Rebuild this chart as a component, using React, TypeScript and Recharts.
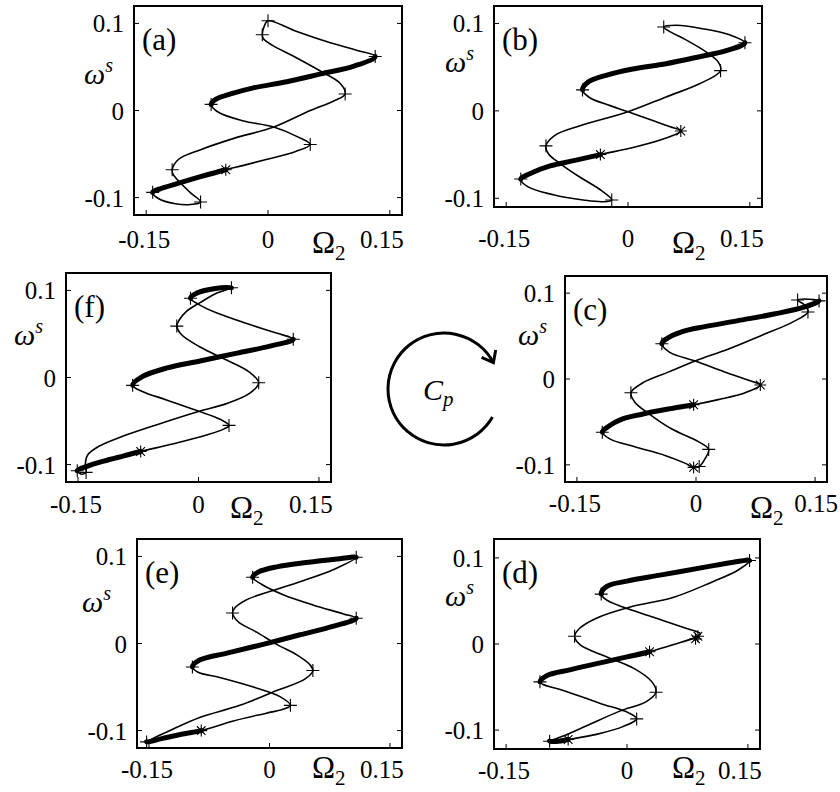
import React from "react";
import { ComposedChart, Line, Scatter, XAxis, YAxis, ReferenceArea } from "recharts";

type Pt = [number, number];

const xDomain: [number, number] = [-0.165, 0.165];
const xTicks = [-0.15, 0, 0.15];
const yTicks = [-0.1, 0, 0.1];

// Each orbit is one closed loop, written as runs that share their end points.
// thickX lists the runs drawn with the heavy line.

// (a)
const runsA: Pt[][] = [
  [[0.132, 0.062], [0.106, 0.051], [0.065, 0.042], [0.023, 0.033], [-0.018, 0.026], [-0.046, 0.019], [-0.064, 0.013], [-0.07, 0.007]],
  [[-0.07, 0.007], [-0.061, -0.002], [-0.03, -0.012], [0.007, -0.019], [0.036, -0.03], [0.052, -0.039], [0.034, -0.047], [-0.001, -0.056], [-0.03, -0.063], [-0.052, -0.068]],
  [[-0.052, -0.068], [-0.083, -0.076], [-0.112, -0.084], [-0.133, -0.09], [-0.142, -0.094]],
  [[-0.142, -0.094], [-0.135, -0.101], [-0.114, -0.107], [-0.096, -0.108], [-0.083, -0.105], [-0.096, -0.094], [-0.108, -0.083], [-0.117, -0.073], [-0.118, -0.068], [-0.11, -0.056], [-0.083, -0.045], [-0.042, -0.032], [0.007, -0.019], [0.052, 0.0], [0.081, 0.011], [0.095, 0.019], [0.089, 0.031], [0.065, 0.045], [0.032, 0.062], [0.005, 0.075], [-0.006, 0.083], [-0.007, 0.087], [-0.005, 0.096], [0.0, 0.103], [0.032, 0.092], [0.073, 0.079], [0.11, 0.069], [0.132, 0.062]],
];
const thickA = [0, 2];
const plusA: Pt[] = [[0.0, 0.103], [-0.007, 0.087], [0.132, 0.062], [0.095, 0.019], [-0.07, 0.007], [0.052, -0.039], [-0.118, -0.068], [-0.142, -0.094], [-0.083, -0.105]];
const starA: Pt[] = [[-0.052, -0.068]];

// (b)
const runsB: Pt[][] = [
  [[0.144, 0.078], [0.121, 0.069], [0.088, 0.062], [0.047, 0.054], [0.006, 0.048], [-0.026, 0.041], [-0.049, 0.033], [-0.056, 0.024]],
  [[-0.056, 0.024], [-0.047, 0.015], [-0.022, 0.006], [0.0, -0.001], [0.027, -0.01], [0.051, -0.018], [0.065, -0.023], [0.047, -0.031], [0.01, -0.041], [-0.034, -0.05]],
  [[-0.034, -0.05], [-0.067, -0.057], [-0.096, -0.063], [-0.121, -0.072], [-0.132, -0.078]],
  [[-0.132, -0.078], [-0.123, -0.087], [-0.092, -0.096], [-0.055, -0.102], [-0.031, -0.104], [-0.02, -0.102], [-0.033, -0.091], [-0.059, -0.076], [-0.084, -0.06], [-0.098, -0.049], [-0.101, -0.04], [-0.09, -0.028], [-0.059, -0.017], [0.0, -0.001], [0.047, 0.016], [0.088, 0.031], [0.114, 0.046], [0.111, 0.056], [0.097, 0.067], [0.072, 0.081], [0.051, 0.091], [0.044, 0.096], [0.06, 0.098], [0.092, 0.094], [0.125, 0.087], [0.144, 0.078]],
];
const thickB = [0, 2];
const plusB: Pt[] = [[0.044, 0.096], [0.144, 0.078], [0.114, 0.046], [-0.056, 0.024], [-0.101, -0.04], [-0.132, -0.078], [-0.02, -0.102]];
const starB: Pt[] = [[0.065, -0.023], [-0.034, -0.05]];

// (f)
const runsF: Pt[][] = [
  [[-0.01, 0.091], [-0.002, 0.097], [0.019, 0.102], [0.041, 0.103]],
  [[0.041, 0.103], [0.023, 0.097], [0.002, 0.086], [-0.015, 0.076], [-0.024, 0.066], [-0.027, 0.059], [-0.021, 0.049], [0.002, 0.035], [0.035, 0.02], [0.062, 0.007], [0.075, -0.006], [0.064, -0.018], [0.035, -0.03], [0.0, -0.039], [-0.048, -0.053], [-0.093, -0.067], [-0.124, -0.079], [-0.138, -0.089], [-0.141, -0.1], [-0.14, -0.109], [-0.146, -0.111], [-0.151, -0.107]],
  [[-0.151, -0.107], [-0.139, -0.102], [-0.118, -0.096], [-0.093, -0.09], [-0.072, -0.085]],
  [[-0.072, -0.085], [-0.031, -0.076], [0.01, -0.066], [0.032, -0.059], [0.038, -0.055], [0.027, -0.048], [-0.002, -0.038], [-0.039, -0.026], [-0.07, -0.016], [-0.082, -0.009]],
  [[-0.082, -0.009], [-0.07, 0.001], [-0.039, 0.011], [0.002, 0.019], [0.048, 0.028], [0.089, 0.036], [0.118, 0.044]],
  [[0.118, 0.044], [0.097, 0.051], [0.06, 0.062], [0.023, 0.074], [0.0, 0.084], [-0.01, 0.091]],
];
const thickF = [0, 2, 4];
const plusF: Pt[] = [[0.041, 0.103], [-0.01, 0.091], [-0.027, 0.059], [0.118, 0.044], [-0.082, -0.009], [0.075, -0.006], [0.038, -0.055], [-0.151, -0.107], [-0.14, -0.109]];
const starF: Pt[] = [[-0.072, -0.085]];

// (c)
const runsC: Pt[][] = [
  [[0.155, 0.091], [0.137, 0.084], [0.1, 0.076], [0.053, 0.068], [0.011, 0.061], [-0.018, 0.055], [-0.037, 0.047], [-0.043, 0.041]],
  [[-0.043, 0.041], [-0.033, 0.031], [-0.001, 0.021], [0.037, 0.008], [0.068, -0.002], [0.081, -0.007], [0.062, -0.016], [0.028, -0.024], [-0.003, -0.03]],
  [[-0.003, -0.03], [-0.035, -0.035], [-0.068, -0.041], [-0.094, -0.047], [-0.11, -0.055], [-0.118, -0.062]],
  [[-0.118, -0.062], [-0.108, -0.07], [-0.077, -0.079], [-0.039, -0.089], [-0.014, -0.098], [-0.003, -0.103], [0.004, -0.102], [0.012, -0.092], [0.016, -0.082], [0.003, -0.073], [-0.031, -0.058], [-0.06, -0.04], [-0.077, -0.027], [-0.082, -0.016], [-0.068, -0.005], [-0.035, 0.008], [-0.001, 0.021], [0.041, 0.035], [0.083, 0.051], [0.121, 0.066], [0.141, 0.078], [0.137, 0.086], [0.128, 0.092], [0.142, 0.093], [0.155, 0.091]],
];
const thickC = [0, 2];
const plusC: Pt[] = [[0.155, 0.091], [0.128, 0.092], [0.141, 0.078], [-0.043, 0.041], [-0.082, -0.016], [-0.118, -0.062], [0.016, -0.082], [0.004, -0.102]];
const starC: Pt[] = [[0.081, -0.007], [-0.003, -0.03], [-0.003, -0.103]];

// (e)
const runsE: Pt[][] = [
  [[-0.021, 0.076], [-0.014, 0.082], [0.009, 0.088], [0.046, 0.093], [0.084, 0.097], [0.108, 0.099]],
  [[0.108, 0.099], [0.08, 0.085], [0.038, 0.071], [0.001, 0.06], [-0.029, 0.05], [-0.043, 0.041], [-0.046, 0.035], [-0.039, 0.025], [-0.016, 0.013], [0.009, -0.001], [0.034, -0.013], [0.05, -0.024], [0.054, -0.031], [0.044, -0.041], [0.009, -0.054], [-0.037, -0.071], [-0.087, -0.085], [-0.124, -0.1], [-0.153, -0.113]],
  [[-0.153, -0.113], [-0.133, -0.109], [-0.108, -0.104], [-0.085, -0.1]],
  [[-0.085, -0.1], [-0.045, -0.089], [-0.004, -0.08], [0.019, -0.075], [0.026, -0.071], [0.013, -0.061], [-0.02, -0.05], [-0.062, -0.039], [-0.089, -0.033], [-0.096, -0.027]],
  [[-0.096, -0.027], [-0.087, -0.019], [-0.053, -0.011], [-0.008, -0.001], [0.038, 0.01], [0.08, 0.02], [0.108, 0.029]],
  [[0.108, 0.029], [0.092, 0.034], [0.055, 0.044], [0.017, 0.056], [-0.01, 0.068], [-0.021, 0.076]],
];
const thickE = [0, 2, 4];
const plusE: Pt[] = [[0.108, 0.099], [-0.021, 0.076], [-0.046, 0.035], [0.108, 0.029], [-0.096, -0.027], [0.054, -0.031], [0.026, -0.071], [-0.153, -0.113]];
const starE: Pt[] = [[-0.085, -0.1]];

// (d)
const runsD: Pt[][] = [
  [[-0.032, 0.058], [-0.025, 0.067], [0.0, 0.073], [0.041, 0.08], [0.095, 0.089], [0.132, 0.095], [0.152, 0.097]],
  [[0.152, 0.097], [0.138, 0.086], [0.103, 0.071], [0.057, 0.054], [0.004, 0.043], [-0.038, 0.03], [-0.059, 0.018], [-0.065, 0.009], [-0.058, -0.001], [-0.025, -0.015], [0.008, -0.028], [0.031, -0.044], [0.036, -0.056], [0.024, -0.067], [-0.009, -0.078], [-0.05, -0.095], [-0.079, -0.107], [-0.096, -0.113]],
  [[-0.096, -0.113], [-0.085, -0.113], [-0.073, -0.111]],
  [[-0.073, -0.111], [-0.038, -0.105], [-0.005, -0.096], [0.012, -0.087], [0.002, -0.08], [-0.033, -0.069], [-0.079, -0.054], [-0.104, -0.047], [-0.108, -0.044]],
  [[-0.108, -0.044], [-0.1, -0.037], [-0.071, -0.03], [-0.029, -0.021], [0.0, -0.015], [0.028, -0.009]],
  [[0.028, -0.009], [0.057, -0.001], [0.088, 0.009], [0.091, 0.012], [0.074, 0.018], [0.033, 0.031], [-0.005, 0.043], [-0.025, 0.051], [-0.032, 0.058]],
];
const thickD = [0, 2, 4];
const plusD: Pt[] = [[0.152, 0.097], [-0.032, 0.058], [-0.065, 0.009], [-0.108, -0.044], [0.036, -0.056], [0.012, -0.087], [-0.096, -0.113]];
const starD: Pt[] = [[0.088, 0.009], [0.085, 0.006], [0.028, -0.009], [-0.073, -0.111]];

const FONT = "Liberation Serif, Times New Roman, serif";
const YW = 70;
const XH = 60;
const MT = 12;
const MR = 40;

// centripetal Catmull-Rom piece (same maths as d3 curveCatmullRom, alpha .5)
function crSegment(ctx: any, p0: Pt, p1: Pt, p2: Pt, p3: Pt) {
  const d = (a: Pt, b: Pt) => Math.hypot(a[0] - b[0], a[1] - b[1]);
  const l01 = Math.sqrt(d(p0, p1));
  const l12 = Math.sqrt(d(p1, p2));
  const l23 = Math.sqrt(d(p2, p3));
  let c1x = p1[0], c1y = p1[1], c2x = p2[0], c2y = p2[1];
  if (l01 > 1e-9) {
    const a = 2 * l01 * l01 + 3 * l01 * l12 + l12 * l12;
    const n = 3 * l01 * (l01 + l12);
    c1x = (p1[0] * a - p0[0] * l12 * l12 + p2[0] * l01 * l01) / n;
    c1y = (p1[1] * a - p0[1] * l12 * l12 + p2[1] * l01 * l01) / n;
  }
  if (l23 > 1e-9) {
    const b = 2 * l23 * l23 + 3 * l23 * l12 + l12 * l12;
    const m = 3 * l23 * (l23 + l12);
    c2x = (p2[0] * b + p1[0] * l23 * l23 - p3[0] * l12 * l12) / m;
    c2y = (p2[1] * b + p1[1] * l23 * l23 - p3[1] * l12 * l12) / m;
  }
  ctx.bezierCurveTo(c1x, c1y, c2x, c2y, p2[0], p2[1]);
}

// closed loop, or open piece whose first/last points only steer the ends
function catmullRom(closed: boolean) {
  return (ctx: any) => {
    let pts: Pt[] = [];
    return {
      areaStart() {},
      areaEnd() {},
      lineStart() {
        pts = [];
      },
      point(x: number, y: number) {
        pts.push([+x, +y]);
      },
      lineEnd() {
        const n = pts.length;
        if (n < 2) return;
        const at = (i: number): Pt =>
          closed ? pts[((i % n) + n) % n] : pts[Math.max(0, Math.min(n - 1, i))];
        const from = closed ? 0 : 1;
        const to = closed ? n : n - 2;
        ctx.moveTo(at(from)[0], at(from)[1]);
        for (let i = from; i < to; i++) crSegment(ctx, at(i - 1), at(i), at(i + 1), at(i + 2));
        if (closed) ctx.closePath();
      },
    };
  };
}
const closedCurve = catmullRom(true);
const openCurve = catmullRom(false);

const PlusMark = (props: any) => {
  const { cx, cy } = props;
  if (cx == null || cy == null) return <g />;
  const r = 6.5;
  return <path d={`M${cx - r},${cy}H${cx + r}M${cx},${cy - r}V${cy + r}`} stroke="#000" strokeWidth={1.1} fill="none" />;
};

const StarMark = (props: any) => {
  const { cx, cy } = props;
  if (cx == null || cy == null) return <g />;
  const r = 6;
  const q = r * 0.72;
  return (
    <path
      d={`M${cx - r},${cy}H${cx + r}M${cx},${cy - r}V${cy + r}M${cx - q},${cy - q}L${cx + q},${cy + q}M${cx - q},${cy + q}L${cx + q},${cy - q}`}
      stroke="#000"
      strokeWidth={1.1}
      fill="none"
    />
  );
};

const fmt = (v: number) => (v === 0 ? "0" : String(v));
const frame = { stroke: "#000", strokeWidth: 2 };
const tickStroke = { stroke: "#000", strokeWidth: 1 };
const NoTick = () => <g />;

type PanelCfg = {
  tag: string;
  left: number;
  top: number;
  w: number;
  h: number;
  yDomain: [number, number];
  runs: Pt[][];
  thick: number[];
  plus: Pt[];
  star: Pt[];
  omS: [number, number];
  om2: [number, number];
  tickDy: number;
  posDx: number;
};

const panels: PanelCfg[] = [
  { tag: "(a)", left: 134, top: 6, w: 268, h: 209, yDomain: [-0.12, 0.12], runs: runsA, thick: thickA, plus: plusA, star: starA, omS: [-50, 78], om2: [178, 38], tickDy: 33, posDx: -8 },
  { tag: "(b)", left: 494, top: 6, w: 268, h: 201, yDomain: [-0.11, 0.12], runs: runsB, thick: thickB, plus: plusB, star: starB, omS: [-49, 66], om2: [178, 46], tickDy: 40, posDx: -8 },
  { tag: "(f)", left: 66, top: 273, w: 265, h: 209, yDomain: [-0.12, 0.12], runs: runsF, thick: thickF, plus: plusF, star: starF, omS: [-52, 72], om2: [164, 36], tickDy: 31, posDx: -8 },
  { tag: "(c)", left: 565, top: 276, w: 262, h: 206, yDomain: [-0.12, 0.12], runs: runsC, thick: thickC, plus: plusC, star: starC, omS: [-47, 69], om2: [185, 36], tickDy: 30, posDx: 1 },
  { tag: "(e)", left: 137, top: 539, w: 265, h: 209, yDomain: [-0.12, 0.12], runs: runsE, thick: thickE, plus: plusE, star: starE, omS: [-55, 73], om2: [175, 30], tickDy: 30, posDx: -8 },
  { tag: "(d)", left: 494, top: 539, w: 266, h: 210, yDomain: [-0.122, 0.122], runs: runsD, thick: thickD, plus: plusD, star: starD, omS: [-49, 67], om2: [178, 29], tickDy: 30, posDx: -8 },
];

const toObj = ([x, y]: Pt) => ({ x, y });

function Panel({ p }: { p: PanelCfg }) {
  const loop = p.runs.flatMap((r) => r.slice(0, -1));
  const n = loop.length;
  const thickData: { x: number; y: number }[][] = [];
  let start = 0;
  p.runs.forEach((r, k) => {
    if (p.thick.includes(k)) {
      const seg = [];
      for (let i = start - 1; i <= start + r.length; i++) seg.push(toObj(loop[((i % n) + n) % n]));
      thickData.push(seg);
    }
    start += r.length - 1;
  });

  const XTick = (t: any) => {
    const v = t.payload.value;
    const dx = v > 0 ? p.posDx : v < 0 ? -2 : 0;
    return (
      <text x={t.x + dx} y={t.y + p.tickDy} textAnchor="middle" fontFamily={FONT} fontSize={25} fill="#000">
        {fmt(v)}
      </text>
    );
  };
  const YTick = (t: any) => (
    <text x={t.x} y={t.y + 9} textAnchor="end" fontFamily={FONT} fontSize={25} fill="#000">
      {fmt(t.payload.value)}
    </text>
  );
  const omegaS = () => (
    <text x={YW + p.omS[0]} y={MT + p.omS[1]} fontFamily={FONT} fontSize={30} fontStyle="italic" fill="#000">
      ω
      <tspan dy={-12} fontSize={20}>
        s
      </tspan>
    </text>
  );
  const omega2 = () => (
    <text x={YW + p.om2[0]} y={MT + p.h + p.om2[1]} fontFamily={FONT} fontSize={31} fill="#000">
      Ω
      <tspan dy={7} fontSize={21}>
        2
      </tspan>
    </text>
  );
  const tag = () => (
    <text x={YW + 8} y={MT + 44} fontFamily={FONT} fontSize={31} fill="#000">
      {p.tag}
    </text>
  );

  return (
    <div style={{ position: "absolute", left: p.left - YW, top: p.top - MT }}>
      <ComposedChart
        width={YW + p.w + MR}
        height={MT + p.h + XH}
        margin={{ top: MT - 1, right: MR - 1, bottom: 0, left: 0 }}
      >
        <XAxis
          type="number"
          dataKey="x"
          domain={xDomain}
          ticks={xTicks}
          interval={0}
          allowDataOverflow
          height={XH}
          tickSize={-5}
          tickMargin={5}
          tick={XTick}
          axisLine={frame}
          tickLine={tickStroke}
          label={omega2}
        />
        <XAxis
          xAxisId="top"
          orientation="top"
          type="number"
          domain={xDomain}
          ticks={xTicks}
          interval={0}
          allowDataOverflow
          height={1}
          tickSize={-5}
          tick={NoTick}
          axisLine={false}
          tickLine={tickStroke}
        />
        <YAxis
          type="number"
          dataKey="y"
          domain={p.yDomain}
          ticks={yTicks}
          interval={0}
          allowDataOverflow
          width={YW}
          tickSize={-5}
          tickMargin={15}
          tick={YTick}
          axisLine={frame}
          tickLine={tickStroke}
          label={omegaS}
        />
        <YAxis
          yAxisId="right"
          orientation="right"
          type="number"
          domain={p.yDomain}
          ticks={yTicks}
          interval={0}
          allowDataOverflow
          width={1}
          tickSize={-5}
          tick={NoTick}
          axisLine={false}
          tickLine={tickStroke}
        />
        <ReferenceArea
          x1={xDomain[0]}
          x2={xDomain[1]}
          y1={p.yDomain[0]}
          y2={p.yDomain[1]}
          fill="none"
          fillOpacity={0}
          stroke="#000"
          strokeWidth={2}
          label={tag}
        />
        <Line
          data={loop.map(toObj)}
          dataKey="y"
          type={closedCurve as any}
          stroke="#000"
          strokeWidth={1.6}
          dot={false}
          activeDot={false}
          isAnimationActive={false}
        />
        {thickData.map((seg, i) => (
          <Line
            key={`thick-${i}`}
            data={seg}
            dataKey="y"
            type={openCurve as any}
            stroke="#000"
            strokeWidth={5}
            strokeLinecap="round"
            strokeLinejoin="round"
            dot={false}
            activeDot={false}
            isAnimationActive={false}
          />
        ))}
        <Scatter data={p.plus.map(toObj)} shape={PlusMark} isAnimationActive={false} />
        <Scatter data={p.star.map(toObj)} shape={StarMark} isAnimationActive={false} />
      </ComposedChart>
    </div>
  );
}

function CpArrow() {
  const cx = 444;
  const cy = 389;
  const r = 56;
  const a0 = (30 * Math.PI) / 180;
  const a1 = (-28 * Math.PI) / 180;
  const sx = cx + r * Math.cos(a0);
  const sy = cy + r * Math.sin(a0);
  const ex = cx + r * Math.cos(a1);
  const ey = cy + r * Math.sin(a1);
  const tx = -Math.sin(a1);
  const ty = Math.cos(a1);
  const wing = (deg: number) => {
    const t = (deg * Math.PI) / 180;
    const bx = -tx * Math.cos(t) + ty * Math.sin(t);
    const by = -ty * Math.cos(t) - tx * Math.sin(t);
    return `${ex + 13 * bx},${ey + 13 * by}`;
  };
  return (
    <svg width={840} height={792} style={{ position: "absolute", left: 0, top: 0, pointerEvents: "none" }}>
      <path d={`M${sx},${sy} A${r},${r} 0 1 1 ${ex},${ey}`} fill="none" stroke="#000" strokeWidth={3} />
      <path d={`M${wing(38)} L${ex},${ey} L${wing(-38)}`} fill="none" stroke="#000" strokeWidth={3} strokeLinejoin="miter" />
      <text x={423} y={400} fontFamily={FONT} fontSize={30} fontStyle="italic" fill="#000">
        C
        <tspan dy={6} fontSize={21}>
          p
        </tspan>
      </text>
    </svg>
  );
}

export default function App() {
  return (
    <div
      style={{
        position: "absolute",
        left: 0,
        top: 0,
        width: 840,
        height: 792,
        overflow: "hidden",
        background: "#fff",
      }}
    >
      {panels.map((p) => (
        <Panel key={p.tag} p={p} />
      ))}
      <CpArrow />
    </div>
  );
}
